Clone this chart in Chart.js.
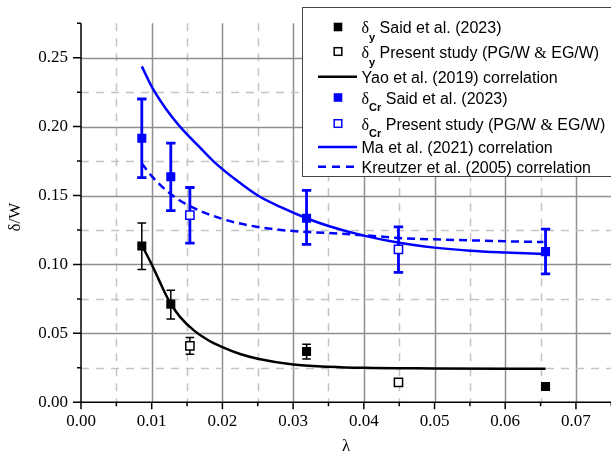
<!DOCTYPE html>
<html>
<head>
<meta charset="utf-8">
<script src="https://cdn.jsdelivr.net/npm/chart.js@4.4.1/dist/chart.umd.min.js"></script>
<style>
html, body { margin: 0; padding: 0; background: #fff; overflow: hidden; }
#wrap { width: 625px; height: 457px; }
</style>
</head>
<body>
<div id="wrap"><canvas id="chart" width="625" height="457"></canvas></div>
<script>
// lambda of the measured points
var lambdaSaid = [0.0086, 0.0127, 0.0319, 0.0657];
var lambdaPresent = [0.0154, 0.0449];

// delta_y / W
var deltaYSaid = [0.1134, 0.0712, 0.0369, 0.0115];
var deltaYSaidLo = [0.0963, 0.0604, 0.0315, null];
var deltaYSaidHi = [0.1300, 0.0813, 0.0422, null];
var deltaYPresent = [0.0410, 0.0145];
var deltaYPresentLo = [0.0348, null];
var deltaYPresentHi = [0.0470, null];

// delta_Cr / W
var deltaCrSaid = [0.1916, 0.1636, 0.1335, 0.1093];
var deltaCrSaidLo = [0.1630, 0.1390, 0.1145, 0.0931];
var deltaCrSaidHi = [0.2200, 0.1880, 0.1538, 0.1256];
var deltaCrPresent = [0.1358, 0.1110];
var deltaCrPresentLo = [0.1155, 0.0943];
var deltaCrPresentHi = [0.1558, 0.1272];

// correlations
var yaoX = [0.0086, 0.010, 0.011, 0.012, 0.0127, 0.014, 0.016, 0.018, 0.020, 0.0225, 0.025, 0.030, 0.035, 0.040, 0.050, 0.060, 0.0657];
var yaoY = [0.1140, 0.1000, 0.0890, 0.0780, 0.0715, 0.0620, 0.0520, 0.0450, 0.0400, 0.0350, 0.0316, 0.0274, 0.0258, 0.0250, 0.0246, 0.0244, 0.0244];
var maX = [0.0086, 0.010, 0.012, 0.014, 0.0165, 0.0187, 0.022, 0.025, 0.0285, 0.0319, 0.035, 0.040, 0.045, 0.050, 0.055, 0.060, 0.0656];
var maY = [0.2437, 0.2290, 0.2130, 0.2000, 0.1865, 0.1750, 0.1610, 0.1500, 0.1410, 0.1335, 0.1279, 0.1209, 0.1157, 0.1122, 0.1100, 0.1087, 0.1076];
var kreutzerX = [0.0086, 0.010, 0.0126, 0.015, 0.020, 0.025, 0.030, 0.035, 0.040, 0.045, 0.050, 0.055, 0.060, 0.0654];
var kreutzerY = [0.1733, 0.1641, 0.1514, 0.1434, 0.1330, 0.1272, 0.1242, 0.1228, 0.1212, 0.1192, 0.1182, 0.1175, 0.1168, 0.1162];

var legendLabels = [
    ['δ', 'y', ' Said et al. (2023)'],
    ['δ', 'y', ' Present study (PG/W ', '&', ' EG/W)'],
    ['Yao et al. (2019) correlation'],
    ['δ', 'Cr', ' Said et al. (2023)'],
    ['δ', 'Cr', ' Present study (PG/W ', '&', ' EG/W)'],
    ['Ma et al. (2021) correlation'],
    ['Kreutzer et al. (2005) correlation']
];

var BLUE = '#0000ff';
var SANS = "'Liberation Sans', Arial, sans-serif";
var SERIF = "'Liberation Serif', 'Times New Roman', serif";

function pts(xs, ys) {
    return xs.map(function(x, i) { return {x: x, y: ys[i]}; });
}

function curve(xs, ys, color, dash) {
    return {
        data: pts(xs, ys), showLine: true, borderColor: color, borderWidth: 2.5,
        borderDash: dash || [], pointRadius: 0, cubicInterpolationMode: 'monotone', fill: false
    };
}

function marks(xs, ys, color, open) {
    return {
        data: pts(xs, ys), showLine: false, pointStyle: 'rect',
        pointRadius: open ? 5.8 : 6.4, pointHoverRadius: open ? 5.8 : 6.4,
        backgroundColor: open ? '#fff' : color, borderColor: color,
        borderWidth: open ? 1.5 : 0
    };
}

var errorBars = [
    {x: lambdaSaid, lo: deltaYSaidLo, hi: deltaYSaidHi, color: '#000', width: 1.5, cap: 4.3},
    {x: lambdaPresent, lo: deltaYPresentLo, hi: deltaYPresentHi, color: '#000', width: 1.5, cap: 4.3},
    {x: lambdaSaid, lo: deltaCrSaidLo, hi: deltaCrSaidHi, color: BLUE, width: 2.8, cap: 4.7},
    {x: lambdaPresent, lo: deltaCrPresentLo, hi: deltaCrPresentHi, color: BLUE, width: 2.8, cap: 4.7}
];

var frame = {
    id: 'frame',
    beforeDatasetsDraw: function(chart) {
        var ctx = chart.ctx, a = chart.chartArea;
        var xs = chart.scales.x, ys = chart.scales.y;
        ctx.save();
        // grid
        xs.ticks.forEach(function(t, i) {
            if (t.value <= xs.min || t.value >= xs.max - 1e-9) return;
            var p = Math.round(xs.getPixelForValue(t.value)) + 0.5;
            ctx.beginPath();
            if (i % 2 === 0) { ctx.strokeStyle = '#8e8e8e'; ctx.lineWidth = 1.5; ctx.setLineDash([]); }
            else { ctx.strokeStyle = '#c4c4c4'; ctx.lineWidth = 1.5; ctx.setLineDash([8, 7]); }
            ctx.moveTo(p, a.top); ctx.lineTo(p, a.bottom); ctx.stroke();
        });
        ys.ticks.forEach(function(t, i) {
            if (t.value <= ys.min || t.value >= ys.max - 1e-9) return;
            var p = Math.round(ys.getPixelForValue(t.value)) + 0.5;
            ctx.beginPath();
            if (i % 2 === 0) { ctx.strokeStyle = '#8e8e8e'; ctx.lineWidth = 1.5; ctx.setLineDash([]); }
            else { ctx.strokeStyle = '#c4c4c4'; ctx.lineWidth = 1.5; ctx.setLineDash([8, 7]); }
            ctx.moveTo(a.left, p); ctx.lineTo(a.right, p); ctx.stroke();
        });
        ctx.setLineDash([]);
        // error bars
        errorBars.forEach(function(e) {
            ctx.strokeStyle = e.color; ctx.lineWidth = e.width;
            e.x.forEach(function(x, i) {
                if (e.lo[i] == null) return;
                var px = xs.getPixelForValue(x);
                var p1 = ys.getPixelForValue(e.lo[i]), p2 = ys.getPixelForValue(e.hi[i]);
                ctx.beginPath();
                ctx.moveTo(px, p1); ctx.lineTo(px, p2);
                ctx.moveTo(px - e.cap, p1); ctx.lineTo(px + e.cap, p1);
                ctx.moveTo(px - e.cap, p2); ctx.lineTo(px + e.cap, p2);
                ctx.stroke();
            });
        });
        ctx.restore();
    },
    afterDraw: function(chart) {
        var ctx = chart.ctx, a = chart.chartArea;
        var xs = chart.scales.x, ys = chart.scales.y;
        ctx.save();
        // axes and tick marks
        ctx.strokeStyle = '#000'; ctx.lineWidth = 1.5;
        ctx.beginPath();
        ctx.moveTo(a.left, a.top); ctx.lineTo(a.left, a.bottom); ctx.lineTo(a.right, a.bottom);
        xs.ticks.forEach(function(t, i) {
            var p = xs.getPixelForValue(t.value);
            ctx.moveTo(p, a.bottom); ctx.lineTo(p, a.bottom + (i % 2 === 0 ? 7 : 4));
        });
        ys.ticks.forEach(function(t, i) {
            var p = ys.getPixelForValue(t.value);
            ctx.moveTo(a.left, p); ctx.lineTo(a.left - (i % 2 === 0 ? 8 : 4), p);
        });
        ctx.stroke();

        // axis titles
        ctx.fillStyle = '#000';
        ctx.font = '17px ' + SERIF;
        ctx.textAlign = 'center'; ctx.textBaseline = 'middle';
        ctx.fillText('λ', (a.left + a.right) / 2, 447);
        ctx.save();
        ctx.translate(16, 217);
        ctx.rotate(-Math.PI / 2);
        ctx.fillText('δ/W', 0, 0);
        ctx.restore();

        // legend
        var bx = 302.5, by = 7.5, bw = 330, bh = 169;
        ctx.fillStyle = '#fff';
        ctx.fillRect(bx, by, bw, bh);
        ctx.strokeStyle = '#444'; ctx.lineWidth = 1;
        ctx.strokeRect(bx, by, bw, bh);
        var rowY = [27, 51.5, 76.7, 97.5, 123.5, 147, 166.7];
        var syms = [['fill', '#000'], ['open', '#000'], ['line', '#000'], ['fill', BLUE], ['open', BLUE], ['line', BLUE], ['dash', BLUE]];
        syms.forEach(function(s, r) {
            var y = rowY[r];
            ctx.fillStyle = s[1]; ctx.strokeStyle = s[1];
            if (s[0] === 'fill') {
                ctx.fillRect(338 - 4.3, y - 4.3, 8.6, 8.6);
            } else if (s[0] === 'open') {
                ctx.lineWidth = 1.5;
                ctx.fillStyle = '#fff';
                ctx.fillRect(338 - 3.8, y - 3.8, 7.6, 7.6);
                ctx.strokeRect(338 - 3.8, y - 3.8, 7.6, 7.6);
            } else {
                ctx.lineWidth = 2.5;
                ctx.setLineDash(s[0] === 'dash' ? [8, 6] : []);
                ctx.beginPath(); ctx.moveTo(318, y); ctx.lineTo(357, y); ctx.stroke();
                ctx.setLineDash([]);
            }
            // label text
            var parts = legendLabels[r];
            var x = 361.5;
            ctx.fillStyle = '#000';
            ctx.textAlign = 'left'; ctx.textBaseline = 'alphabetic';
            var base = y + 6;
            if (parts.length === 1) {
                ctx.font = '16px ' + SANS;
                ctx.fillText(parts[0], x, base);
                return;
            }
            ctx.font = '16px ' + SERIF;
            ctx.fillText(parts[0], x, base);
            x += ctx.measureText(parts[0]).width;
            ctx.font = 'bold 11px ' + SANS;
            ctx.fillText(parts[1], x, base + (parts[1] === 'y' ? 8 : 7));
            x += ctx.measureText(parts[1]).width;
            for (var k = 2; k < parts.length; k++) {
                ctx.font = (parts[k] === '&' ? '16px ' + SERIF : '16px ' + SANS);
                ctx.fillText(parts[k], x, base);
                x += ctx.measureText(parts[k]).width;
            }
        });
        ctx.restore();
    }
};

Chart.defaults.font.family = SERIF;
Chart.defaults.font.size = 17;
Chart.defaults.color = '#000';

new Chart(document.getElementById('chart'), {
    type: 'scatter',
    data: {
        datasets: [
            curve(yaoX, yaoY, '#000'),
            curve(maX, maY, BLUE),
            curve(kreutzerX, kreutzerY, BLUE, [8, 5]),
            marks(lambdaSaid, deltaYSaid, '#000', false),
            marks(lambdaPresent, deltaYPresent, '#000', true),
            marks(lambdaSaid, deltaCrSaid, BLUE, false),
            marks(lambdaPresent, deltaCrPresent, BLUE, true)
        ]
    },
    options: {
        responsive: false,
        animation: false,
        layout: { padding: { top: 4.6, right: 13.7, left: 0, bottom: 0 } },
        plugins: { legend: { display: false }, tooltip: { enabled: false } },
        scales: {
            x: {
                type: 'linear', min: 0, max: 0.075,
                grid: { display: false, drawTicks: false },
                border: { display: false },
                ticks: {
                    stepSize: 0.005, padding: 9.5, maxRotation: 0, autoSkip: false,
                    callback: function(v, i) { return i % 2 === 0 && v < 0.0749 ? v.toFixed(2) : ''; }
                },
                afterFit: function(s) { s.height = 54.7; }
            },
            y: {
                type: 'linear', min: 0, max: 0.275,
                grid: { display: false, drawTicks: false },
                border: { display: false },
                ticks: {
                    stepSize: 0.025, padding: 13, autoSkip: false,
                    callback: function(v, i) { return i % 2 === 0 && v < 0.274 ? v.toFixed(2) : ''; }
                },
                afterFit: function(s) { s.width = 81; }
            }
        }
    },
    plugins: [frame]
});
</script>
</body>
</html>
